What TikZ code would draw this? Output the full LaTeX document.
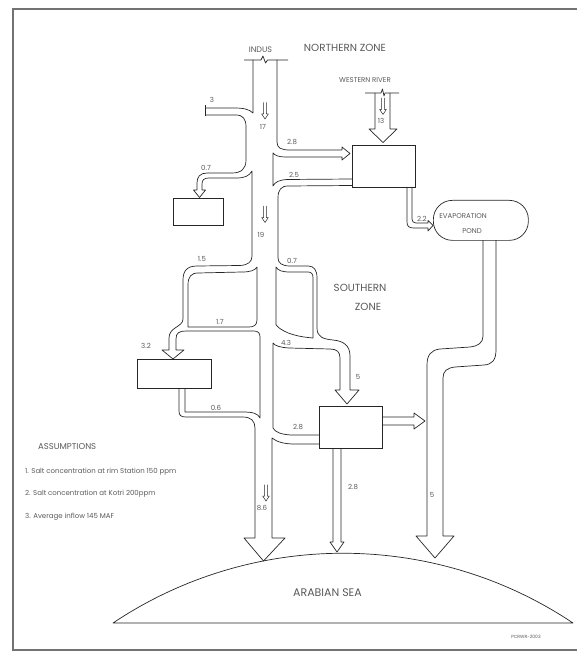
\documentclass[tikz,border=0pt]{standalone}
\usepackage{fontspec}
\setmainfont{Poppins}
\definecolor{inkgray}{gray}{0.35}
\definecolor{framegray}{gray}{0.45}
\tikzset{flowdown/.pic={\draw[line width=0.5pt,black!85,line join=round]
  (-1.3,0) -- (-1.3,11.5) -- (-3.3,11.5) -- (0,16.5) -- (3.3,11.5) -- (1.3,11.5) -- (1.3,0);}}

\begin{document}
\begin{tikzpicture}[x=1pt,y=-1pt,
  wall/.style={line width=0.7pt,black!85,line join=round},
  lbl/.style={text=inkgray,inner sep=0pt,font=\fontsize{7}{8}\selectfont},
  bigger/.style={text=inkgray,inner sep=0pt,font=\fontsize{10.3}{12}\selectfont},
  tank/.style={draw=black!85,line width=0.7pt,inner sep=0pt,anchor=north west}]
	\useasboundingbox (0,0) rectangle (577,652);
	% frame
	\draw[framegray,line width=1.2pt] (577,9) -- (13,9) -- (13,650) -- (577,650);
	% tanks and pond
	\node[tank,minimum width=63pt,minimum height=42pt] (upbox) at (352,145) {};
	\node[tank,minimum width=50pt,minimum height=27pt] (smallbox) at (173,198) {};
	\node[tank,minimum width=74pt,minimum height=29pt] (leftbox) at (137,359) {};
	\node[tank,minimum width=63pt,minimum height=42pt] (lowbox) at (319,406) {};
	\node[tank,rounded corners=19pt,minimum width=95pt,minimum height=40pt] (pond) at (433,200) {};
	% indus head
	\draw[wall] (244,60) -- (261,60) -- (263,56) -- (265.5,63) -- (267.5,60) -- (288,60);
	\draw[wall] (253,60) -- (253,113) .. controls (249,109) and (243,108) .. (234,108) -- (205,108);
	\draw[wall] (205,105.5) -- (205,116);
	% left bank
	\draw[wall] (205,115) -- (236,115) .. controls (243,115) and (246,119) .. (246,127)
		-- (246,160) .. controls (246,169) and (241,173) .. (232,173) -- (207,173)
		.. controls (200,173) and (197,177) .. (197,183) -- (197,190) -- (193.5,190) -- (199.5,197.5) -- (205.5,190) -- (202,190) -- (202,184)
		.. controls (202,180) and (204,178) .. (209,178) -- (236,178) .. controls (245,178) and (249,176) .. (252,171)
		-- (252,256) .. controls (252,262) and (248,265) .. (240,265.5) -- (197,266)
		.. controls (187,266) and (183,271) .. (183,280) -- (183,319) .. controls (183,327) and (169,327) .. (169,338)
		-- (169,350) -- (162,350) -- (173,359) -- (184,350) -- (176,350) -- (176,339)
		.. controls (176,333) and (179,331) .. (186,331) -- (254,331) .. controls (258,331) and (260,333) .. (260,337)
		-- (260,418) .. controls (258,413.5) and (253,412) .. (243,412) -- (185,412) -- (185,388);
	\draw[wall] (257,267) .. controls (255,270.5) and (250,272) .. (242,272) -- (198,273) .. controls (191,273) and (188,277) .. (188,285)
		-- (188,327) -- (249,327) .. controls (254,327) and (257,325) .. (257,320) -- cycle;
	\draw[wall] (179,388) -- (179,411) .. controls (179,415.5) and (181,417) .. (186,417) -- (243,417) .. controls (251,417) and (255,421) .. (255,428)
		-- (255,538) -- (244,538) -- (263.5,561) -- (285,538) -- (272,538) -- (272,438) .. controls (277,442) and (284,444) .. (295,444) -- (319,444);
	% right bank
	\draw[wall] (277,60) -- (277,142) .. controls (277,148) and (281,150) .. (290,150) -- (342,150) -- (342,147) -- (350,153.5) -- (342,160) -- (342,157)
		-- (285,157) .. controls (279,157) and (275,155.5) .. (273,153) -- (273,186) .. controls (275,182) and (279,180) .. (287,179.5) -- (352,179);
	\draw[wall] (352,185.5) -- (288,186) .. controls (281,186) and (278,190) .. (278,198) -- (278,258) .. controls (278,263) and (282,266) .. (290,266)
		-- (308,266) .. controls (314,266) and (317,270) .. (317,278) -- (317,328) .. controls (317,337) and (323,339) .. (333,340)
		.. controls (344,341) and (350,346) .. (350,356) -- (350,390) -- (359,390) -- (347,404) -- (335,390) -- (340,390) -- (340,358)
		.. controls (340,352) and (337,349) .. (330,349) -- (289,348) .. controls (281,347.5) and (275,346) .. (273,343)
		-- (273,428) .. controls (275,432) and (281,434.5) .. (291,435) -- (319,435);
	\draw[wall] (276,267) .. controls (278,270.5) and (282,272) .. (290,272) -- (308,272) .. controls (311.5,272) and (313,274) .. (313,278)
		-- (313,338) .. controls (300,337) and (284,334) .. (276,325) -- cycle;
	% outflows of the lower tank
	\draw[wall] (382,417) -- (414,417) -- (414,413) -- (425,421) -- (414,429) -- (414,425) -- (382,425);
	\draw[wall] (333,448) -- (333,542) -- (330,542) -- (337,552) -- (344,542) -- (341,542) -- (341,448);
	% upper tank to pond
	\draw[wall] (407,187) -- (407,222) .. controls (407,226.5) and (409,228) .. (414,228) -- (428,228) -- (428,231) -- (433,225.5)
		-- (428,220.5) -- (428,223) -- (416,223) .. controls (413.5,223) and (412,221.5) .. (412,219) -- (412,187);
	% western river
	\draw[wall] (365,93) -- (381,93) -- (382.5,89) -- (384,96) -- (385,93) -- (399,93);
	\draw[wall] (375,93) -- (375,129) -- (369,129) -- (383,142.5) -- (397,129) -- (390,129) -- (390,93);
	% pond to sea
	\draw[wall] (483,240) -- (483,336) .. controls (483,343) and (478,346) .. (470,347) -- (440,349) .. controls (431,350) and (427,355) .. (427,365)
		-- (427,536) -- (416,536) -- (435,558) -- (454,536) -- (443,536) -- (443,378) .. controls (443,371) and (447,368) .. (455,367)
		-- (484,365) .. controls (492,364.5) and (496,360) .. (496,350) -- (496,240);
	% sea
	\draw[wall] (113,623) .. controls (252,530) and (434,530) .. (573,623) -- cycle;
	% flow marks
	\pic (m17) at (265,102.5) {flowdown};
	\pic (m19) at (265,206) {flowdown};
	\pic (m13) at (383,98) {flowdown};
	\pic (m86) at (266,484.5) {flowdown};
	% labels
	\node[bigger] (north) at (345,48) {NORTHERN ZONE};
	\node[bigger] (south) at (360,288) {SOUTHERN};
	\node[bigger] (southb) at (368,307) {ZONE};
	\node[lbl,font=\fontsize{8}{9}\selectfont] (indus) at (260.5,49.5) {INDUS};
	\node[lbl] (western) at (365,80) {WESTERN RIVER};
	\node[lbl] (evap) at (463,216) {EVAPORATION};
	\node[lbl] (evapb) at (472,231) {POND};
	\node[lbl] (q3) at (212,100) {3};
	\node[lbl] (q17) at (263,127) {17};
	\node[lbl] (q13) at (381,121) {13};
	\node[lbl] (qa) at (292,142) {2.8};
	\node[lbl] (qb) at (206,168) {0.7};
	\node[lbl] (qc) at (294,175) {2.5};
	\node[lbl] (qd) at (422,219) {2.2};
	\node[lbl] (q19) at (261,235) {19};
	\node[lbl] (qe) at (202,259) {1.5};
	\node[lbl] (qf) at (292,261) {0.7};
	\node[lbl] (qg) at (220,322) {1.7};
	\node[lbl] (qh) at (286,343) {4.3};
	\node[lbl] (qi) at (146,346) {3.2};
	\node[lbl] (qj) at (358,377) {5};
	\node[lbl] (qk) at (216,408) {0.6};
	\node[lbl] (ql) at (298,427) {2.8};
	\node[lbl] (qm) at (353,487) {2.8};
	\node[lbl] (qn) at (432,495) {5};
	\node[lbl] (qo) at (262,508) {8.6};
	\node[lbl,font=\fontsize{8.5}{10}\selectfont,anchor=west] (assume) at (38,447) {ASSUMPTIONS};
	\node[lbl,anchor=west] (assa) at (25,472) {1. Salt concentration at rim Station 150 ppm};
	\node[lbl,anchor=west] (assb) at (25,494) {2. Salt concentration at Kotri 200ppm};
	\node[lbl,anchor=west] (assc) at (25,517) {3. Average inflow 145 MAF};
	\node[lbl,font=\fontsize{11}{13}\selectfont,anchor=west] (sea) at (293,593) {ARABIAN SEA};
	\node[lbl,font=\fontsize{4.5}{5}\selectfont] (stamp) at (526,637) {PCRWR-2003};
\end{tikzpicture}
\end{document}
